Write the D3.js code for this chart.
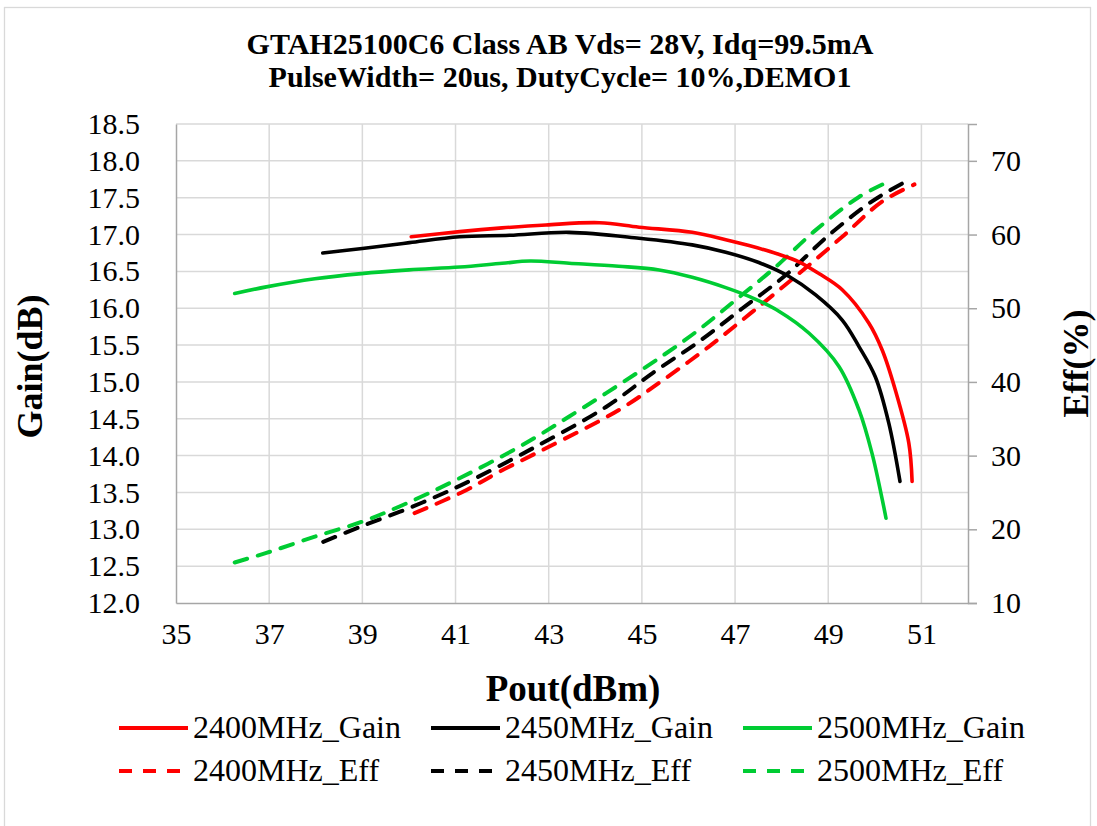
<!DOCTYPE html>
<html>
<head>
<meta charset="utf-8">
<script src="https://cdn.jsdelivr.net/npm/d3@7"></script>
<style>
  body { margin: 0; background: #fff; }
  text { font-family: "Liberation Serif", "Times New Roman", serif; }
</style>
</head>
<body>
<script>
// values
var titleLines = ["GTAH25100C6 Class AB Vds= 28V, Idq=99.5mA", "PulseWidth= 20us, DutyCycle= 10%,DEMO1"];
var xTicks = [35, 37, 39, 41, 43, 45, 47, 49, 51];
var gainTicks = [12.0, 12.5, 13.0, 13.5, 14.0, 14.5, 15.0, 15.5, 16.0, 16.5, 17.0, 17.5, 18.0, 18.5];
var effTicks = [10, 20, 30, 40, 50, 60, 70];

var gain2400 = [[40.05, 16.97], [41.09, 17.04], [42.0, 17.09], [42.94, 17.13], [44.09, 17.16], [44.94, 17.10],
  [46.08, 17.03], [46.8, 16.93], [47.3, 16.85], [47.9, 16.74], [48.37, 16.63], [48.8, 16.47], [49.3, 16.25],
  [49.87, 15.80], [50.16, 15.43], [50.44, 14.89], [50.73, 14.17], [50.80, 13.65]];
var gain2450 = [[38.15, 16.75], [39.0, 16.81], [40.01, 16.89], [41.09, 16.97], [42.16, 16.99], [43.44, 17.03],
  [44.94, 16.95], [46.08, 16.86], [46.8, 16.76], [47.51, 16.62], [48.16, 16.43], [48.73, 16.18],
  [49.3, 15.84], [49.66, 15.48], [50.01, 15.07], [50.3, 14.44], [50.54, 13.65]];
var gain2500 = [[36.26, 16.20], [36.94, 16.29], [37.98, 16.40], [38.98, 16.47], [40.0, 16.52], [41.09, 16.56],
  [42.0, 16.61], [42.6, 16.64], [43.44, 16.61], [44.5, 16.57], [45.37, 16.52], [46.08, 16.42],
  [46.8, 16.28], [47.3, 16.16], [47.94, 15.96], [48.59, 15.66], [49.23, 15.21], [49.66, 14.62],
  [49.94, 14.03], [50.19, 13.31], [50.24, 13.15]];

var eff2400 = [[40.12, 22.2], [41.16, 25.1], [42.0, 28.0], [42.94, 31.0], [44.51, 36.2], [45.51, 40.5],
  [46.44, 44.8], [47.37, 49.5], [48.37, 54.7], [49.3, 59.7], [50.16, 64.5], [50.85, 66.8]];
var eff2450 = [[38.16, 18.3], [38.98, 20.4], [40.01, 22.9], [41.09, 25.9], [42.66, 31.0], [44.23, 36.6],
  [45.23, 41.2], [46.23, 45.5], [47.16, 50.0], [48.09, 54.5], [49.01, 59.9], [49.94, 64.5], [50.58, 66.9]];
var eff2500 = [[36.26, 15.5], [36.94, 16.8], [37.98, 19.0], [38.98, 21.0], [39.87, 23.3], [40.98, 26.6],
  [42.37, 31.2], [43.44, 35.3], [44.94, 41.4], [46.08, 46.4], [47.01, 51.1], [47.87, 55.6],
  [48.73, 60.6], [49.66, 65.1], [50.23, 67.0]];

var seriesNames = ["2400MHz_Gain", "2450MHz_Gain", "2500MHz_Gain", "2400MHz_Eff", "2450MHz_Eff", "2500MHz_Eff"];
var seriesColors = ["#ff0000", "#000000", "#00cc33", "#ff0000", "#000000", "#00cc33"];

function makeChart() {
  const W = 1097, H = 826;
  const left = 176, right = 968, plotTop = 124, bottom = 603;

  const svg = d3.select("body").append("svg").attr("width", W).attr("height", H);

  // outer frame
  svg.append("rect").attr("x", 4.5).attr("y", 7.5).attr("width", 1086).attr("height", 840)
    .attr("fill", "none").attr("stroke", "#d9d9d9").attr("stroke-width", 1.3);

  let x = d3.scaleLinear().domain([35, 52]).range([left, right]);
  let yG = d3.scaleLinear().domain([12, 18.5]).range([bottom, plotTop]);
  let yE = d3.scaleLinear().domain([10, 75]).range([bottom, plotTop]);

  // grid
  svg.append("g").selectAll("line").data(gainTicks.slice(1))
    .enter().append("line")
      .attr("x1", left).attr("x2", right)
      .attr("y1", function(d) { return yG(d); }).attr("y2", function(d) { return yG(d); })
      .attr("stroke", "#d9d9d9").attr("stroke-width", 1.5);
  svg.append("g").selectAll("line").data(xTicks.slice(1))
    .enter().append("line")
      .attr("x1", function(d) { return x(d); }).attr("x2", function(d) { return x(d); })
      .attr("y1", plotTop).attr("y2", bottom)
      .attr("stroke", "#d9d9d9").attr("stroke-width", 1.5);

  // axes
  let xAxis = svg.append("g").attr("transform", "translate(0," + bottom + ")")
    .call(d3.axisBottom(x).tickValues(xTicks).tickSize(0).tickPadding(20).tickFormat(d3.format("d")));
  let gAxis = svg.append("g").attr("transform", "translate(" + left + ",0)")
    .call(d3.axisLeft(yG).tickValues(gainTicks).tickSize(0).tickPadding(36).tickFormat(d3.format(".1f")));
  let eAxis = svg.append("g").attr("transform", "translate(" + right + ",0)")
    .call(d3.axisRight(yE).tickValues(effTicks).tickSize(9).tickPadding(14).tickFormat(d3.format("d")));

  [xAxis, gAxis, eAxis].forEach(function(a) {
    a.select(".domain").attr("stroke", "#a6a6a6").attr("stroke-width", 1.5);
    a.selectAll(".tick line").attr("stroke", "#a6a6a6").attr("stroke-width", 1.5);
    a.selectAll("text").attr("font-family", "Liberation Serif").attr("font-size", 30).attr("fill", "#000");
  });

  // curves
  let gainLine = d3.line().x(function(d) { return x(d[0]); }).y(function(d) { return yG(d[1]); })
    .curve(d3.curveCatmullRom.alpha(0.5));
  let effLine = d3.line().x(function(d) { return x(d[0]); }).y(function(d) { return yE(d[1]); })
    .curve(d3.curveCatmullRom.alpha(0.5));

  [eff2400, eff2450, eff2500].forEach(function(s, i) {
    svg.append("path").datum(s).attr("d", effLine)
      .attr("fill", "none").attr("stroke", seriesColors[i + 3]).attr("stroke-width", 4)
      .attr("stroke-dasharray", "13,11").attr("stroke-linecap", "round");
  });
  [gain2400, gain2450, gain2500].forEach(function(s, i) {
    svg.append("path").datum(s).attr("d", gainLine)
      .attr("fill", "none").attr("stroke", seriesColors[i]).attr("stroke-width", 3.6)
      .attr("stroke-linejoin", "round").attr("stroke-linecap", "round");
  });

  // title
  svg.selectAll(".title").data(titleLines).enter().append("text")
    .attr("class", "title")
    .attr("x", 560).attr("y", function(d, i) { return 54 + i * 33; })
    .attr("text-anchor", "middle").attr("font-size", 30).attr("font-weight", "bold")
    .text(function(d) { return d; });

  // axis titles
  svg.append("text").attr("x", 573).attr("y", 701)
    .attr("text-anchor", "middle").attr("font-size", 37).attr("font-weight", "bold").text("Pout(dBm)");
  svg.append("text").attr("transform", "translate(42," + ((plotTop + bottom) / 2 + 3) + ") rotate(-90)")
    .attr("text-anchor", "middle").attr("font-size", 36).attr("font-weight", "bold").text("Gain(dB)");
  svg.append("text").attr("transform", "translate(1088," + ((plotTop + bottom) / 2) + ") rotate(-90)")
    .attr("text-anchor", "middle").attr("font-size", 36).attr("font-weight", "bold").text("Eff(%)");

  // legend
  const legX = [119, 431, 743];
  const legY = [728, 771];
  seriesNames.forEach(function(name, i) {
    var col = i % 3, row = Math.floor(i / 3);
    var g = svg.append("g").attr("transform", "translate(" + legX[col] + "," + legY[row] + ")");
    g.append("line").attr("x1", 0).attr("x2", 69).attr("y1", 0).attr("y2", 0)
      .attr("stroke", seriesColors[i]).attr("stroke-width", 4)
      .attr("stroke-dasharray", row === 1 ? "13,11" : null);
    g.append("text").attr("x", 74).attr("y", 10).attr("font-size", 32).text(name);
  });
}

makeChart();
</script>
</body>
</html>
